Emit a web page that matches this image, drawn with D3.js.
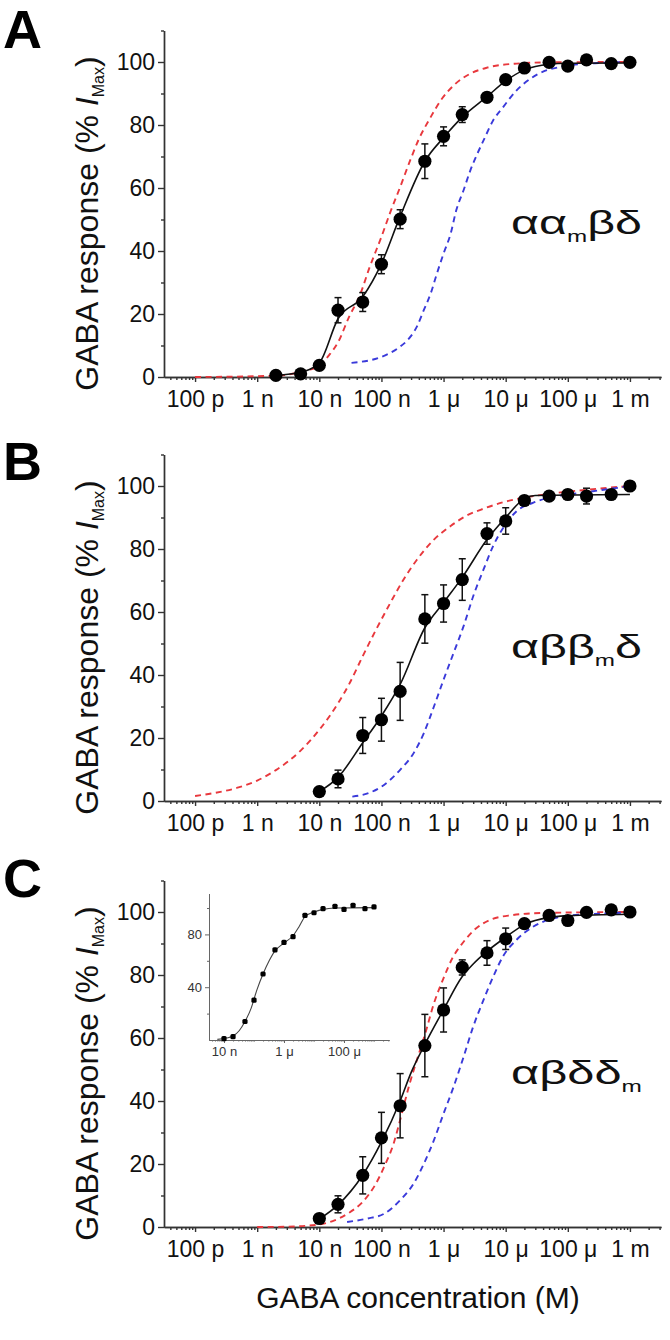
<!DOCTYPE html>
<html><head><meta charset="utf-8">
<script src="https://cdn.jsdelivr.net/npm/d3@7"></script>
<style>
body{margin:0;background:#fff;}
svg{display:block;}
text{font-family:"Liberation Sans",Arial,sans-serif;}
</style></head>
<body>
<svg id="chart" width="670" height="1340"></svg>
<script>
// ---------- tick labels ----------
const xTickValues = [1e-10,1e-9,1e-8,1e-7,1e-6,1e-5,1e-4,1e-3];
const xTickLabels = ["100 p","1 n","10 n","100 n","1 μ","10 μ","100 μ","1 m"];
const yTickValues = [0,20,40,60,80,100];
const yMinorValues = [10,30,50,70,90,110];
const insetXTickValues = [1e-8,1e-6,1e-4];
const insetXTickLabels = ["10 n","1 μ","100 μ"];
const insetYTickValues = [40,80];
const insetYMinorValues = [20,60,100];

// ---------- panel A : αα_mβδ ----------
const concA = [2e-9,5e-9,1e-8,2e-8,5e-8,1e-7,2e-7,5e-7,1e-6,2e-6,5e-6,1e-5,2e-5,5e-5,1e-4,2e-4,5e-4,1e-3];
const respA = [0.5,1,3.7,21.2,23.8,35.8,50.1,68.5,76.4,83.3,88.8,94.4,98.1,99.9,98.7,100.7,99.5,99.9];
const errA  = [0.3,0.3,0.5,4,3,3,3,5.5,3,2.5,1.2,0.8,0.6,0.5,0.5,0.6,0.5,0.4];
const fitAConc = [2e-9,5e-9,1e-8,2e-8,5e-8,1e-7,2e-7,5e-7,1e-6,2e-6,5e-6,1e-5,2e-5,5e-5,1e-4,1e-3];
const fitAResp = [0.5,1.5,4.5,18.5,25.5,36,51,68.5,76,82.5,89,94,97.5,99.3,99.6,99.7];
const redAConc = [1e-10,2e-9,5e-9,1e-8,1.5e-8,2e-8,3e-8,4.5e-8,6.5e-8,1e-7,1.4e-7,2e-7,3e-7,4e-7,6e-7,9e-7,1.5e-6,2.7e-6,5e-6,1.5e-5,5e-5,1e-3];
const redAResp = [0,0.4,1.6,3.7,7.4,11,19,26,35,44.5,52.5,60.3,69.5,75.5,82,87.8,92.8,96.3,98.2,99.5,99.9,100];
const blueAConc = [3.3e-8,1e-7,1.8e-7,2.6e-7,3.7e-7,4.8e-7,6.2e-7,7.8e-7,1e-6,1.3e-6,1.6e-6,2.1e-6,2.7e-6,3.5e-6,4.4e-6,6.3e-6,9.1e-6,1.5e-5,2.5e-5,4.6e-5,7.4e-5,3.2e-4,1e-3];
const blueAResp = [4.5,6.4,9,11.6,15.9,21.2,26.5,32.8,39.2,45.5,52.9,59.3,65.6,70.9,75.1,81.5,85.7,91,94.7,97.4,98.4,99.7,100];

// ---------- panel B : αββ_mδ ----------
const concB = [1e-8,2e-8,5e-8,1e-7,2e-7,5e-7,1e-6,2e-6,5e-6,1e-5,2e-5,5e-5,1e-4,2e-4,5e-4,1e-3];
const respB = [3,7,20.8,25.8,34.8,57.8,62.7,70.3,84.9,88.9,95.4,96.8,97.3,96.8,97.3,100];
const errB  = [0.3,2.8,5.7,6.8,9.2,7.7,5.9,6.6,3.4,4.2,1,1,1.5,2.5,1,0.5];
const fitBConc = [1e-8,2e-8,5e-8,1e-7,2e-7,5e-7,1e-6,2e-6,5e-6,1e-5,2e-5,3e-5,1e-3];
const fitBResp = [3,7.5,18.5,27,37,55,63,71,83,90,96,97,97.3];
const redBConc = [1e-10,2e-10,5e-10,1e-9,2e-9,5e-9,1e-8,2e-8,3e-8,5e-8,8e-8,1.4e-7,2.3e-7,3.7e-7,7e-7,1.3e-6,2.3e-6,4.4e-6,9e-6,2e-5,5e-5,2e-4,1e-3];
const redBResp = [1.6,2.5,4.3,6.5,9.8,16,22.6,31,37,46,54,63,70.5,76.5,83,87.3,90.5,92.8,94.8,96.3,97.5,98.8,100];
const blueBConc = [3.4e-8,6e-8,1.1e-7,2e-7,3.3e-7,4.8e-7,7e-7,1e-6,1.45e-6,2.1e-6,3e-6,4.4e-6,6.3e-6,9.1e-6,1.5e-5,2.8e-5,5e-5,1.8e-4,1e-3];
const blueBResp = [1.4,2.4,5.1,9.9,15.2,21.5,30,38.5,47,55.5,65,73.5,81,86.7,92,94.7,96.3,97.9,100];

// ---------- panel C : αβδδ_m ----------
const concC = [1e-8,2e-8,5e-8,1e-7,2e-7,5e-7,1e-6,2e-6,5e-6,1e-5,2e-5,5e-5,1e-4,2e-4,5e-4,1e-3];
const respC = [2.7,7.2,16.4,28.3,38.5,57.6,68.9,82.4,87,91.5,96.3,98.9,97.3,99.9,100.7,100];
const errC  = [0.3,2.7,5.9,8.1,10.2,9.9,7,2.4,3.9,3.4,1.5,1,1,0.5,0.5,0.5];
const fitCConc = [1e-8,2e-8,5e-8,1e-7,2e-7,3e-7,5e-7,1e-6,2e-6,3e-6,5e-6,1e-5,2e-5,5e-5,1e-4,1e-3];
const fitCResp = [2.5,7,16.5,27,40,49,58,69,79.5,83.5,87.5,92,96,98.3,98.8,99.3];
const redCConc = [1e-9,3e-9,1e-8,1.8e-8,3e-8,5e-8,8e-8,1.1e-7,1.6e-7,2e-7,2.8e-7,4e-7,5e-7,7e-7,1e-6,1.4e-6,2e-6,3.2e-6,5.6e-6,1.25e-5,4e-5,1e-3];
const redCResp = [0,0.1,0.8,2.2,4.5,8,13.5,19,27,34,45,55,61,71,79,85.5,90,94.5,97.5,99,99.7,100];
const blueCConc = [2.8e-8,6e-8,1.1e-7,2e-7,3.3e-7,4.8e-7,7e-7,1e-6,1.45e-6,2.1e-6,3e-6,4.4e-6,6.3e-6,9.1e-6,1.5e-5,2.8e-5,5e-5,1e-4,6e-4,1e-3];
const blueCResp = [1.6,2.7,4.2,8.5,13.8,20,27.6,36,44.5,54,63.6,72.1,79.5,86,91.2,95.4,97.6,98.8,99.7,99.9];

// ---------- inset (panel C) ----------
const insetResp = [1,2.5,14,30.2,50,68.3,73.9,78.4,94.4,96.4,99.5,101.3,99,102,99.5,100.8];
const insetFitConc = [6e-9,1.2e-8,2e-8,3.2e-8,5e-8,8e-8,1.25e-7,2e-7,3.2e-7,5e-7,1e-6,2e-6,3.2e-6,5e-6,1e-5,2e-5,5e-5,1e-3];
const insetFitResp = [0.5,1.5,3,7,14,24,38,50,60,67.5,73.5,79,86,93.5,97,99,100,100.3];

const panelLabels = ["A","B","C"];
const subunitParts = [
  ["αα","m","βδ"],
  ["αββ","m","δ"],
  ["αβδδ","m",""]
];

// ---------- layout ----------
const svg = d3.select("#chart");
const RED = "#e8383d", BLUE = "#3a3ada", AX = "#333";
const x = d3.scaleLog().domain([3.162e-11, 3.162e-3]).range([164, 661]);
const panelZero = [377, 801, 1227];
const panelLetterY = [48, 480, 897];
const panels = [
  {conc:concA, resp:respA, err:errA, fc:fitAConc, fr:fitAResp, rc:redAConc, rr:redAResp, bc:blueAConc, br:blueAResp},
  {conc:concB, resp:respB, err:errB, fc:fitBConc, fr:fitBResp, rc:redBConc, rr:redBResp, bc:blueBConc, br:blueBResp},
  {conc:concC, resp:respC, err:errC, fc:fitCConc, fr:fitCResp, rc:redCConc, rr:redCResp, bc:blueCConc, br:blueCResp}
];

function zip(a,b){ return a.map((v,i)=>({c:v, v:b[i]})); }

panels.forEach((p, i) => {
  const y0 = panelZero[i];
  const y = d3.scaleLinear().domain([0,110]).range([y0, y0 - 346.5]);
  const g = svg.append("g");

  // axes
  const ya = g.append("g").attr("transform","translate(164,0)")
    .call(d3.axisLeft(y).tickValues(yTickValues).tickSize(6).tickSizeOuter(0).tickPadding(3).tickFormat(d3.format("d")));
  const ym = g.append("g").attr("transform","translate(164,0)")
    .call(d3.axisLeft(y).tickValues(yMinorValues).tickSize(3).tickSizeOuter(0).tickFormat(""));
  const xa = g.append("g").attr("transform",`translate(0,${y0})`)
    .call(d3.axisBottom(x).tickValues(xTickValues).tickSize(5).tickSizeOuter(0).tickPadding(9)
      .tickFormat((d,k)=>xTickLabels[k]));
  const minor = x.ticks().filter(t => Math.abs(Math.log10(t) - Math.round(Math.log10(t))) > 1e-6);
  const xm = g.append("g").attr("transform",`translate(0,${y0})`)
    .call(d3.axisBottom(x).tickValues(minor).tickSize(3).tickSizeOuter(0).tickFormat(""));
  [ya,ym,xa,xm].forEach(a => {
    a.selectAll("path,line").attr("stroke",AX).attr("stroke-width",1.4);
    a.selectAll("text").attr("font-size",23).attr("fill","#111")
      .attr("font-family","'Liberation Sans',Arial,sans-serif");
  });

  const line = d3.line().x(d=>x(d.c)).y(d=>y(d.v)).curve(d3.curveMonotoneX);

  g.append("path").datum(zip(p.rc,p.rr)).attr("d",line).attr("fill","none")
    .attr("stroke",RED).attr("stroke-width",1.9).attr("stroke-dasharray","6,4.5");
  g.append("path").datum(zip(p.bc,p.br)).attr("d",line).attr("fill","none")
    .attr("stroke",BLUE).attr("stroke-width",1.9).attr("stroke-dasharray","6,4.5");
  g.append("path").datum(zip(p.fc,p.fr)).attr("d",line).attr("fill","none")
    .attr("stroke","#111").attr("stroke-width",1.6);

  const pts = p.conc.map((c,k)=>({c, v:p.resp[k], e:p.err[k]}));
  const eb = g.append("g").attr("stroke","#111").attr("stroke-width",1.5);
  pts.filter(d=>d.e>0.6).forEach(d=>{
    const cx = x(d.c);
    eb.append("line").attr("x1",cx).attr("x2",cx).attr("y1",y(d.v-d.e)).attr("y2",y(d.v+d.e));
    eb.append("line").attr("x1",cx-3.5).attr("x2",cx+3.5).attr("y1",y(d.v-d.e)).attr("y2",y(d.v-d.e));
    eb.append("line").attr("x1",cx-3.5).attr("x2",cx+3.5).attr("y1",y(d.v+d.e)).attr("y2",y(d.v+d.e));
  });
  g.selectAll("circle.pt").data(pts).join("circle").attr("class","pt")
    .attr("cx",d=>x(d.c)).attr("cy",d=>y(d.v)).attr("r",6.6).attr("fill","#000");

  // y title
  const yt = g.append("text").attr("transform",`translate(98,${y(50)+4}) rotate(-90)`)
    .attr("text-anchor","middle").attr("font-size",32).attr("fill","#111");
  yt.append("tspan").text("GABA response (% ");
  yt.append("tspan").attr("font-style","italic").text("I");
  yt.append("tspan").attr("font-size",16).attr("dy",6).text("Max");
  yt.append("tspan").attr("dy",-6).text(")");

  // panel letter
  g.append("text").attr("x",3).attr("y",panelLetterY[i]).attr("font-size",54)
    .attr("font-weight","bold").attr("fill","#000").text(panelLabels[i]);

  // subunit label
  const parts = subunitParts[i];
  const st = g.append("text").attr("font-family","'DejaVu Sans',sans-serif")
    .attr("font-size",34).attr("fill","#111").attr("x",0).attr("y",0);
  st.append("tspan").text(parts[0]);
  st.append("tspan").attr("font-size",17).attr("dy",8.4).text(parts[1]);
  if (parts[2]) st.append("tspan").attr("dy",-8.4).text(parts[2]);
  const w = st.node().getComputedTextLength();
  st.attr("transform",`translate(511,${y0-143}) scale(${131/w},1)`);

  // inset
  if (i === 2) {
    const xi = d3.scaleLog().domain([3.162e-9, 3.162e-3]).range([209, 389]);
    const yi = d3.scaleLinear().domain([0,111]).range([1040, 893.5]);
    const gi = svg.append("g");
    const a1 = gi.append("g").attr("transform","translate(209,0)")
      .call(d3.axisLeft(yi).tickValues(insetYTickValues).tickSize(4).tickSizeOuter(0).tickPadding(3).tickFormat(d3.format("d")));
    const a2 = gi.append("g").attr("transform","translate(209,0)")
      .call(d3.axisLeft(yi).tickValues(insetYMinorValues).tickSize(2).tickSizeOuter(0).tickFormat(""));
    const a3 = gi.append("g").attr("transform","translate(0,1040)")
      .call(d3.axisBottom(xi).tickValues(insetXTickValues).tickSize(3).tickSizeOuter(0).tickPadding(4)
        .tickFormat((d,k)=>insetXTickLabels[k]));
    const iminor = xi.ticks().filter(t => !insetXTickValues.includes(t));
    const a4 = gi.append("g").attr("transform","translate(0,1040)")
      .call(d3.axisBottom(xi).tickValues(iminor).tickSize(1.5).tickSizeOuter(0).tickFormat(""));
    [a1,a2,a3,a4].forEach(a=>{
      a.selectAll("path,line").attr("stroke","#666").attr("stroke-width",1);
      a.selectAll("text").attr("font-size",13).attr("fill","#333")
        .attr("font-family","'Liberation Sans',Arial,sans-serif");
    });
    const li = d3.line().x(d=>xi(d.c)).y(d=>yi(d.v)).curve(d3.curveMonotoneX);
    gi.append("path").datum(zip(insetFitConc,insetFitResp)).attr("d",li).attr("fill","none")
      .attr("stroke","#444").attr("stroke-width",1.1);
    gi.selectAll("rect.ip").data(concC.map((c,k)=>({c, v:insetResp[k]}))).join("rect").attr("class","ip")
      .attr("x",d=>xi(d.c)-2.6).attr("y",d=>yi(d.v)-2.6).attr("width",5.2).attr("height",5.2)
      .attr("rx",1.5).attr("fill","#000");
  }
});

// x title
svg.append("text").attr("x",418).attr("y",1308).attr("text-anchor","middle")
  .attr("font-size",30).attr("fill","#111").text("GABA concentration (M)");
</script>
</body></html>
